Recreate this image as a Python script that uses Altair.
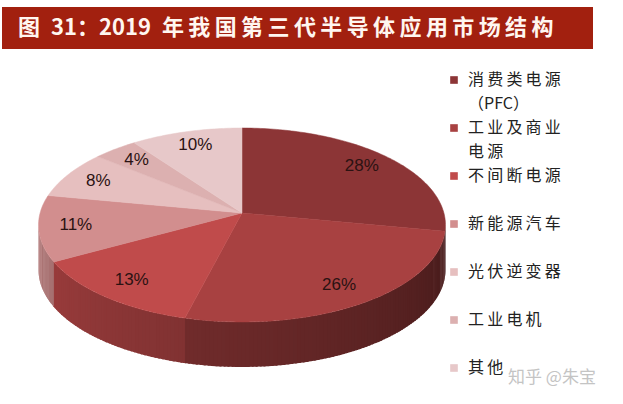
import math
import altair as alt
import pandas as pd

# ---------------- data ----------------
categories = ["消费类电源（PFC）", "工业及商业电源", "不间断电源", "新能源汽车",
              "光伏逆变器", "工业电机", "其他"]
legend_labels = ["消费类电源\n（PFC）", "工业及商业\n电源", "不间断电源", "新能源汽车",
                 "光伏逆变器", "工业电机", "其他"]
shares = [28, 26, 13, 11, 8, 4, 10]
palette = ["#8C3536", "#A84141", "#C04B4B", "#D28E8E", "#E6BFBF", "#DCB0B0", "#E7C8C9"]
title_text = "图 31：2019 年我国第三代半导体应用市场结构"
watermark_text = "知乎 @朱宝"

# ---------------- helpers ----------------
def is_cjk(ch):
    return ord(ch) > 0x2E80


def spaced(s, sp="\u2009"):
    out = ""
    for i, ch in enumerate(s):
        out += ch
        if i + 1 < len(s) and is_cjk(ch) and is_cjk(s[i + 1]):
            out += sp
    return out


def shade(hex_color, f):
    r, g, b = int(hex_color[1:3], 16), int(hex_color[3:5], 16), int(hex_color[5:7], 16)
    return "#%02x%02x%02x" % (int(r * f), int(g * f), int(b * f))


# perspective pie geometry (screen pixels via identity projection)
CX, CY = 242.0, 213.0
A, B, E = 201.9, 95.5, 0.1237
DEPTH = 45.0


def proj(t_deg, r=1.0, dy=0.0):
    t = math.radians(t_deg)
    u, v = r * math.sin(t), r * math.cos(t)
    d = 1 + E * v
    return [CX + A * u / d, CY - B * v / d + dy]


total = float(sum(shares))
bounds = [0.0]
for s in shares:
    bounds.append(bounds[-1] + s / total * 360.0)

# top faces
top_feats = []
for i, s in enumerate(shares):
    a, b = bounds[i], bounds[i + 1]
    n = max(2, int((b - a) / 1.0) + 1)
    ring = [[CX, CY]]
    for k in range(n + 1):
        ring.append(proj(a + (b - a) * k / n))
    ring.append([CX, CY])
    top_feats.append({"type": "Feature",
                      "geometry": {"type": "Polygon", "coordinates": [ring]},
                      "properties": {"fill": palette[i], "cat": categories[i]}})

# side wall (visible front part)
t_right = math.degrees(math.acos(-E))
t_left = 360.0 - t_right
edges = []
t = t_right
while t < t_left:
    edges.append(t)
    t += 1.0
edges.append(t_left)
edges = sorted(set(edges + [x for x in bounds if t_right < x < t_left]))


def factor(tm):
    return 0.42 + 0.43 * (tm - t_right) / (t_left - t_right)


wall_feats = []
for ta, tb in zip(edges[:-1], edges[1:]):
    tm = (ta + tb) / 2
    idx = max(j for j in range(len(shares)) if bounds[j] <= tm)
    col = shade(palette[idx], factor(tm))
    tb2 = min(tb + 0.5, t_left)
    ring = [proj(ta), proj(tm), proj(tb2), proj(tb2, dy=DEPTH), proj(tm, dy=DEPTH),
            proj(ta, dy=DEPTH), proj(ta)]
    wall_feats.append({"type": "Feature",
                       "geometry": {"type": "Polygon", "coordinates": [ring]},
                       "properties": {"fill": col}})

# percentage labels
lab_rows = []
for i, s in enumerate(shares):
    tm = (bounds[i] + bounds[i + 1]) / 2
    p = proj(tm, r=0.82)
    lab_rows.append({"lx": p[0], "ly": p[1], "txt": f"{s}%"})
labels_df = pd.DataFrame(lab_rows)

legend_df = pd.DataFrame({
    "cat": categories,
    "label": [spaced(l) for l in legend_labels],
    "color": palette,
})

one = pd.DataFrame({"k": [0]})

walls = alt.Chart(alt.Data(values=wall_feats)).mark_geoshape(strokeWidth=0).encode(
    fill=alt.Fill("properties.fill:N", scale=None),
).project(type="identity", scale=1, translate=[0, 0])

tops = alt.Chart(alt.Data(values=top_feats)).mark_geoshape(strokeWidth=0.5).encode(
    fill=alt.Fill("properties.fill:N", scale=None),
    stroke=alt.Stroke("properties.fill:N", scale=None),
).project(type="identity", scale=1, translate=[0, 0])

pct = alt.Chart(labels_df).mark_text(
    font="Liberation Sans", fontSize=17, color="#2B1212", align="center", baseline="middle"
).encode(
    longitude="lx:Q", latitude="ly:Q", text="txt:N"
).project(type="identity", scale=1, translate=[0, 0])

ypos = alt.Y("cat:N", scale=alt.Scale(type="point", domain=categories, range=[80, 368], padding=0), axis=None)

leg_sq = alt.Chart(legend_df).mark_square(size=58, opacity=1).encode(
    x=alt.value(454), y=ypos, color=alt.Color("color:N", scale=None)
)
leg_tx = alt.Chart(legend_df).mark_text(
    font="Noto Sans CJK SC", fontSize=16, color="#222222", align="left", baseline="top",
    lineBreak="\n", lineHeight=24, dy=-8
).encode(x=alt.value(468), y=ypos, text="label:N")

bar = alt.Chart(one).mark_rect(color="#A2200F").encode(
    x=alt.value(2), x2=alt.value(593), y=alt.value(7), y2=alt.value(49)
)
title = alt.Chart(one).mark_text(
    text=spaced(title_text).replace(" ", "\u2002"), font="Noto Sans CJK SC", fontSize=22,
    fontWeight="bold", color="#FFF6F0", align="left", baseline="middle"
).encode(x=alt.value(18), y=alt.value(28))

wm = alt.Chart(one).mark_text(
    text=watermark_text, font="Noto Sans CJK SC", fontSize=17, color="#C4C4C4",
    align="left", baseline="middle"
).encode(x=alt.value(508), y=alt.value(378))

chart = alt.layer(walls, tops, pct, leg_sq, leg_tx, bar, title, wm).properties(
    width=623, height=404, padding=0, autosize=alt.AutoSizeParams(type="none"),
    background="white"
).configure_view(stroke=None)

chart.save("out.html", embed_options={"renderer": "svg", "actions": False})
